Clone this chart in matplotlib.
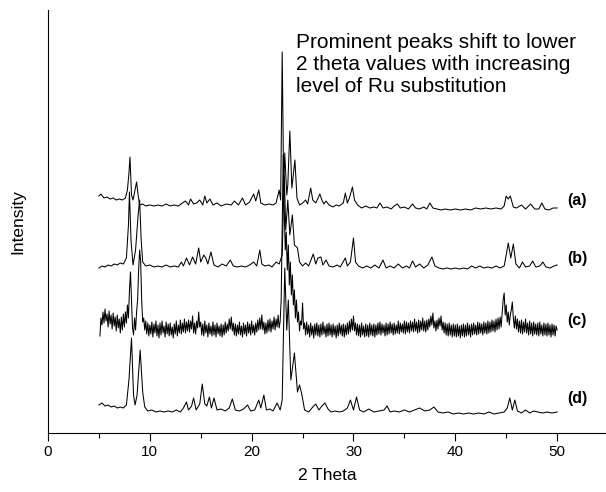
import matplotlib
matplotlib.use("Agg")
import matplotlib.pyplot as plt

plt.rcParams['font.family'] = ['Liberation Sans', 'DejaVu Sans']

# ---- data (2 theta, intensity a.u.) ----
a_pts = [(5.0,237),(5.2,239),(5.5,235),(5.8,236),(6.1,234),(6.4,235),(6.7,233),(7.0,234),(7.3,233),(7.6,235),
         (7.8,243),(7.95,260),(8.05,276),(8.2,238),(8.35,233),(8.55,243),(8.7,251),(8.85,238),(9.0,228),(9.3,229),
         (9.6,227),(10.0,228),(10.4,227),(10.8,228),(11.2,227),(11.6,229),(12.0,227),(12.4,228),(12.8,227),(13.2,230),
         (13.5,232),(13.8,228),(14.0,234),(14.3,229),(14.6,230),(14.9,233),(15.2,228),(15.4,237),(15.6,230),(15.9,234),
         (16.2,228),(16.6,230),(17.0,227),(17.5,229),(18.0,228),(18.3,232),(18.7,228),(19.1,235),(19.4,228),(19.8,231),
         (20.2,239),(20.4,232),(20.7,243),(20.9,230),(21.3,228),(21.7,229),(22.1,228),(22.4,230),(22.7,243),(22.85,233),
         (23.0,381),(23.15,243),(23.25,280),(23.45,238),(23.55,248),(23.75,302),(23.95,245),(24.25,273),(24.45,235),(24.7,228),
         (25.0,230),(25.3,233),(25.5,229),(25.8,245),(26.0,233),(26.3,230),(26.7,239),(26.9,233),(27.1,229),(27.3,232),
         (27.6,228),(28.0,226),(28.3,228),(28.6,227),(29.0,230),(29.2,240),(29.4,230),(29.6,235),(29.9,246),(30.1,233),
         (30.4,228),(30.8,225),(31.2,227),(31.6,225),(32.0,226),(32.3,225),(32.6,230),(32.9,225),(33.3,226),(33.7,224),
         (34.0,227),(34.3,229),(34.6,225),(35.0,226),(35.4,224),(35.8,229),(36.1,225),(36.5,224),(36.9,226),(37.2,224),
         (37.5,230),(37.8,225),(38.2,224),(38.6,223),(39.0,224),(39.5,223),(40.0,224),(40.5,223),(41.0,224),(41.5,223),
         (42.0,225),(42.5,224),(43.0,225),(43.5,224),(44.0,225),(44.5,224),(44.8,227),(45.0,237),(45.2,234),(45.4,237),
         (45.7,226),(46.0,225),(46.5,228),(46.9,224),(47.4,229),(47.8,224),(48.2,224),(48.5,230),(48.8,224),(49.2,223),
         (49.6,225),(50.0,225)]

b_pts = [(5.0,165),(5.3,167),(5.6,166),(5.9,168),(6.2,167),(6.5,169),(6.8,168),(7.1,170),(7.4,169),(7.7,175),
         (7.9,208),(8.0,241),(8.15,193),(8.35,168),(8.6,183),(8.85,218),(9.0,233),(9.15,193),(9.3,171),(9.6,167),
         (10.0,168),(10.4,166),(10.8,167),(11.2,166),(11.6,168),(12.0,166),(12.4,167),(12.8,166),(13.1,171),(13.3,167),
         (13.6,175),(13.9,168),(14.2,176),(14.5,169),(14.8,185),(15.0,171),(15.3,178),(15.5,175),(15.7,169),(16.0,181),
         (16.3,168),(16.7,166),(17.1,169),(17.5,167),(17.9,173),(18.2,167),(18.6,166),(19.0,167),(19.4,166),(19.8,168),
         (20.2,171),(20.5,167),(20.8,183),(21.0,169),(21.3,167),(21.7,168),(22.0,166),(22.4,171),(22.7,169),(23.0,178),
         (23.2,258),(23.35,203),(23.55,233),(23.75,198),(24.0,218),(24.2,188),(24.5,185),(24.7,171),(25.0,167),(25.3,170),
         (25.6,167),(26.05,179),(26.3,169),(26.5,175),(26.8,176),(27.0,168),(27.3,173),(27.6,167),(28.0,166),(28.4,168),
         (28.7,166),(29.2,175),(29.4,167),(29.7,171),(30.0,195),(30.2,171),(30.5,167),(30.9,165),(31.3,167),(31.7,165),
         (32.1,168),(32.5,165),(32.9,173),(33.2,165),(33.6,167),(34.0,165),(34.4,169),(34.8,165),(35.2,167),(35.5,165),
         (35.8,172),(36.1,166),(36.5,169),(36.9,165),(37.3,168),(37.7,176),(38.0,167),(38.4,165),(38.8,164),(39.2,165),
         (39.6,164),(40.0,165),(40.4,164),(40.8,165),(41.2,164),(41.6,167),(42.0,165),(42.4,167),(42.8,165),(43.2,166),
         (43.6,165),(44.0,167),(44.4,165),(44.8,167),(45.0,178),(45.2,190),(45.45,175),(45.7,189),(45.95,169),(46.3,165),
         (46.6,171),(46.9,166),(47.3,167),(47.6,172),(47.9,166),(48.3,167),(48.6,171),(48.9,166),(49.3,165),(49.7,167),
         (50.0,168)]

c_pts = [(5.1,97),(5.2,115),(5.3,108),(5.4,121),(5.5,110),(5.6,124),(5.7,112),(5.8,119),(5.9,106),(6.0,122),
         (6.1,109),(6.2,118),(6.3,104),(6.4,120),(6.5,107),(6.6,116),(6.7,102),(6.8,118),(6.9,105),(7.0,114),
         (7.1,100),(7.2,116),(7.3,103),(7.4,119),(7.5,106),(7.6,121),(7.7,110),(7.8,128),(7.9,115),(8.0,143),
         (8.1,161),(8.2,133),(8.3,105),(8.4,98),(8.5,115),(8.6,103),(8.7,121),(8.8,133),(8.9,163),(9.0,183),
         (9.1,171),(9.2,133),(9.3,111),(9.4,115),(9.5,103),(9.6,112),(9.7,99),(9.8,110),(9.9,97),
         (10.0,108),(10.1,99),(10.2,111),(10.3,96),(10.4,109),(10.5,100),(10.6,112),(10.7,97),(10.8,108),(10.9,95),
         (11.0,110),(11.1,98),(11.2,112),(11.3,100),(11.4,107),(11.5,96),(11.6,111),(11.7,99),(11.8,109),(11.9,97),
         (12.0,110),(12.1,98),(12.2,106),(12.3,95),(12.4,109),(12.5,99),(12.6,112),(12.7,97),(12.8,108),(12.9,100),
         (13.0,113),(13.1,99),(13.2,110),(13.3,101),(13.4,114),(13.5,100),(13.6,111),(13.7,102),(13.8,113),(13.9,101),
         (14.0,112),(14.1,104),(14.2,117),(14.3,100),(14.4,110),(14.5,99),(14.6,112),(14.7,105),(14.8,121),(14.9,106),
         (15.0,111),(15.1,98),(15.2,109),(15.3,97),(15.4,112),(15.5,100),(15.6,108),(15.7,96),(15.8,110),(15.9,99),
         (16.0,107),(16.1,97),(16.2,111),(16.3,98),(16.4,108),(16.5,96),(16.6,110),(16.7,99),(16.8,107),(16.9,97),
         (17.0,109),(17.1,96),(17.2,108),(17.3,98),(17.4,111),(17.5,100),(17.6,109),(17.7,102),(17.8,114),(17.9,104),
         (18.0,116),(18.1,102),(18.2,110),(18.3,98),(18.4,109),(18.5,97),(18.6,108),(18.7,99),(18.8,111),(18.9,98),
         (19.0,107),(19.1,96),(19.2,110),(19.3,99),(19.4,108),(19.5,97),(19.6,111),(19.7,100),(19.8,109),(19.9,98),
         (20.0,112),(20.1,100),(20.2,108),(20.3,98),(20.4,110),(20.5,101),(20.6,113),(20.7,103),(20.8,115),(20.9,104),
         (21.0,118),(21.1,103),(21.2,111),(21.3,99),(21.4,110),(21.5,100),(21.6,113),(21.7,102),(21.8,114),(21.9,101),
         (22.0,112),(22.1,104),(22.2,116),(22.3,103),(22.4,114),(22.5,106),(22.6,118),(22.7,105),(22.8,112),(22.9,133),
         (23.0,203),(23.1,278),(23.2,223),(23.3,183),(23.4,201),(23.5,163),(23.6,188),(23.7,148),(23.8,171),(23.9,138),
         (24.0,158),(24.1,128),(24.2,143),(24.3,115),(24.4,133),(24.5,111),(24.6,121),(24.7,102),(24.8,112),(24.9,108),
         (25.0,130),(25.1,104),(25.2,110),(25.3,98),(25.4,111),(25.5,99),(25.6,108),(25.7,96),(25.8,110),(25.9,98),
         (26.0,107),(26.1,95),(26.2,109),(26.3,98),(26.4,110),(26.5,97),(26.6,108),(26.7,96),(26.8,109),(26.9,98),
         (27.0,111),(27.1,99),(27.2,107),(27.3,96),(27.4,109),(27.5,97),(27.6,110),(27.7,98),(27.8,108),(27.9,96),
         (28.0,109),(28.1,98),(28.2,107),(28.3,95),(28.4,108),(28.5,97),(28.6,110),(28.7,99),(28.8,108),(28.9,97),
         (29.0,109),(29.1,96),(29.2,108),(29.3,98),(29.4,110),(29.5,99),(29.6,112),(29.7,101),(29.8,114),(29.9,103),
         (30.0,117),(30.1,102),(30.2,110),(30.3,98),(30.4,109),(30.5,97),(30.6,108),(30.7,96),(30.8,110),(30.9,98),
         (31.0,107),(31.1,96),(31.2,109),(31.3,97),(31.4,108),(31.5,96),(31.6,110),(31.7,98),(31.8,108),(31.9,97),
         (32.0,109),(32.1,96),(32.2,108),(32.3,98),(32.4,110),(32.5,99),(32.6,111),(32.7,98),(32.8,109),(32.9,100),
         (33.0,108),(33.1,97),(33.2,110),(33.3,98),(33.4,109),(33.5,99),(33.6,111),(33.7,100),(33.8,109),(33.9,98),
         (34.0,110),(34.1,99),(34.2,108),(34.3,100),(34.4,112),(34.5,99),(34.6,110),(34.7,101),(34.8,109),(34.9,100),
         (35.0,112),(35.1,99),(35.2,111),(35.3,101),(35.4,110),(35.5,100),(35.6,112),(35.7,102),(35.8,111),(35.9,101),
         (36.0,114),(36.1,102),(36.2,111),(36.3,100),(36.4,113),(36.5,101),(36.6,112),(36.7,103),(36.8,115),(36.9,102),
         (37.0,112),(37.1,101),(37.2,113),(37.3,103),(37.4,114),(37.5,106),(37.6,117),(37.7,108),(37.8,120),(37.9,105),
         (38.0,112),(38.1,102),(38.2,113),(38.3,104),(38.4,115),(38.5,107),(38.6,117),(38.7,103),(38.8,111),(38.9,100),
         (39.0,110),(39.1,98),(39.2,109),(39.3,97),(39.4,110),(39.5,98),(39.6,108),(39.7,96),(39.8,109),(39.9,97),
         (40.0,108),(40.1,96),(40.2,109),(40.3,97),(40.4,107),(40.5,95),(40.6,108),(40.7,97),(40.8,109),(40.9,96),
         (41.0,108),(41.1,97),(41.2,110),(41.3,98),(41.4,108),(41.5,96),(41.6,109),(41.7,98),(41.8,110),(41.9,99),
         (42.0,108),(42.1,98),(42.2,111),(42.3,99),(42.4,110),(42.5,100),(42.6,109),(42.7,98),(42.8,111),(42.9,100),
         (43.0,110),(43.1,99),(43.2,112),(43.3,100),(43.4,111),(43.5,101),(43.6,113),(43.7,102),(43.8,112),(43.9,101),
         (44.0,114),(44.1,103),(44.2,115),(44.3,104),(44.4,116),(44.5,106),(44.6,119),(44.7,133),(44.8,140),(44.9,118),
         (45.0,128),(45.1,111),(45.2,121),(45.3,108),(45.4,118),(45.5,123),(45.6,131),(45.7,115),(45.8,105),(45.9,117),
         (46.0,104),(46.1,114),(46.2,101),(46.3,112),(46.4,100),(46.5,113),(46.6,99),(46.7,111),(46.8,101),(46.9,114),
         (47.0,100),(47.1,110),(47.2,98),(47.3,112),(47.4,99),(47.5,110),(47.6,97),(47.7,111),(47.8,99),(47.9,109),
         (48.0,98),(48.1,110),(48.2,97),(48.3,111),(48.4,99),(48.5,108),(48.6,97),(48.7,110),(48.8,98),(48.9,109),
         (49.0,97),(49.1,110),(49.2,98),(49.3,108),(49.4,96),(49.5,109),(49.6,98),(49.7,108),(49.8,97),(49.9,107),
         (50.0,103)]

d_pts = [(5.0,28),(5.3,30),(5.6,27),(5.9,28),(6.2,26),(6.5,27),(6.8,25),(7.1,26),(7.4,25),(7.7,28),
         (7.95,53),(8.2,95),(8.4,38),(8.55,28),(8.75,38),(9.05,83),(9.3,41),(9.5,26),(9.8,22),(10.2,23),
         (10.6,21),(11.0,22),(11.4,21),(11.8,22),(12.2,21),(12.6,23),(13.0,21),(13.3,25),(13.6,31),(13.8,23),
         (14.1,27),(14.3,35),(14.55,23),(14.9,29),(15.15,49),(15.4,29),(15.6,27),(15.85,36),(16.05,25),(16.3,35),
         (16.6,23),(17.0,24),(17.4,22),(17.8,25),(18.1,34),(18.4,23),(18.8,22),(19.2,24),(19.6,28),(19.9,22),
         (20.3,23),(20.7,33),(20.9,25),(21.2,38),(21.45,23),(21.8,24),(22.1,22),(22.5,30),(22.8,23),(23.0,33),
         (23.25,165),(23.45,103),(23.6,133),(23.85,53),(24.2,80),(24.5,41),(24.7,48),(24.9,40),(25.2,23),(25.6,21),
         (26.0,26),(26.3,29),(26.6,23),(26.9,27),(27.2,30),(27.5,24),(27.8,21),(28.2,22),(28.6,21),(29.0,22),
         (29.4,25),(29.7,33),(30.0,23),(30.3,36),(30.6,23),(31.0,21),(31.5,24),(32.0,21),(32.5,22),(33.0,23),
         (33.3,27),(33.6,21),(34.0,22),(34.5,21),(35.0,23),(35.5,21),(36.0,23),(36.5,25),(37.0,22),(37.5,23),
         (37.9,26),(38.3,21),(38.8,20),(39.3,21),(39.8,19),(40.3,20),(40.8,19),(41.3,20),(41.8,19),(42.3,20),
         (42.8,19),(43.3,21),(43.8,19),(44.3,20),(44.8,21),(45.1,25),(45.35,35),(45.6,23),(45.85,33),(46.1,22),
         (46.5,20),(46.9,23),(47.3,20),(47.7,22),(48.1,21),(48.6,20),(49.0,21),(49.5,20),(50.0,21)]

series_names = ["(a)", "(b)", "(c)", "(d)"]
label_y = [233, 175, 112, 35]
x_ticks = [0, 10, 20, 30, 40, 50]
annotation = "Prominent peaks shift to lower\n2 theta values with increasing\nlevel of Ru substitution"

fig = plt.figure(figsize=(6.06, 4.92), dpi=100)
ax = fig.add_axes([48/606, 59/492, 558/606, 423/492])

for pts in (a_pts, b_pts, c_pts, d_pts):
    xs, ys = zip(*pts)
    ax.plot(xs, ys, color='black', linewidth=0.75)

for name, ly in zip(series_names, label_y):
    ax.text(51.0, ly, name, fontsize=11.5, fontweight='bold', ha='left', va='center')

ax.text(24.4, 400, annotation, fontsize=15, ha='left', va='top', linespacing=1.2)

ax.set_xlim(0, 54.8)
ax.set_ylim(0, 423)
ax.set_xticks(x_ticks)
ax.set_xticks([5, 15, 25, 35, 45], minor=True)
ax.set_yticks([])
ax.tick_params(axis='x', which='major', direction='out', length=6, width=0.8, labelsize=11, pad=3)
ax.tick_params(axis='x', which='minor', direction='out', length=3.5, width=0.8)
ax.spines['top'].set_visible(False)
ax.spines['right'].set_visible(False)
ax.spines['left'].set_linewidth(0.8)
ax.spines['bottom'].set_linewidth(0.8)
ax.set_xlabel("2 Theta", fontsize=12.5)
ax.set_ylabel("Intensity", fontsize=12.5)
ax.xaxis.set_label_coords(0.5, -0.083)
ax.yaxis.set_label_coords(-0.04, 0.5)

fig.savefig("out.png", dpi=100)
